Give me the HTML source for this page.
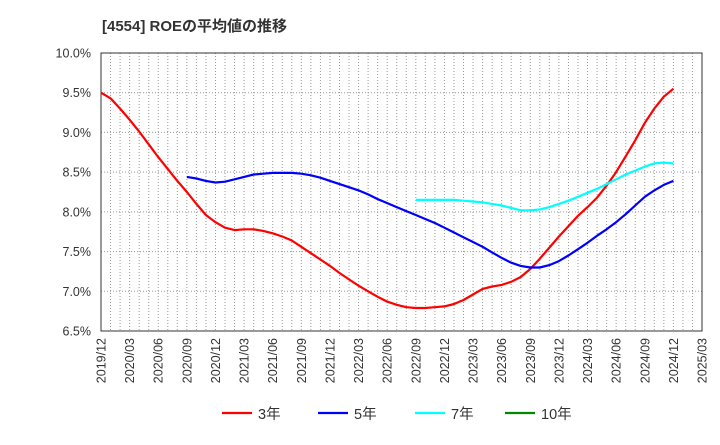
<!DOCTYPE html>
<html><head><meta charset="utf-8"><style>
body{margin:0;background:#fff;font-family:"Liberation Sans","Noto Sans CJK JP",sans-serif;}
svg text{font-family:"Liberation Sans","Noto Sans CJK JP",sans-serif;}
</style></head><body>
<svg id="chart" width="720" height="440">
<text x="102" y="31" font-size="15" font-weight="bold" fill="#333">[4554]  ROEの平均値の推移</text>
<g id="grid"></g><g id="axes"></g><g id="series"></g><g id="legend"></g>
</svg>
<script>
const months = 64;
const startYear = 2019, startMonth = 12;
const yTicks = [6.5,7.0,7.5,8.0,8.5,9.0,9.5,10.0];
const red3 = [9.50,9.43,9.30,9.16,9.01,8.85,8.69,8.54,8.39,8.25,8.10,7.96,7.87,7.80,7.77,7.78,7.78,7.76,7.73,7.69,7.64,7.56,7.48,7.40,
7.32,7.23,7.15,7.07,7.00,6.93,6.87,6.83,6.80,6.79,6.79,6.80,6.81,6.84,6.89,6.96,7.03,7.06,7.08,7.12,7.18,7.28,7.41,7.55,7.69,7.82,7.95,8.06,8.18,8.33,8.50,8.70,8.90,9.12,9.30,9.45,9.55];
const red3Start = 0;
const blue5 = [8.44,8.42,8.39,8.37,8.38,8.41,8.44,8.47,8.48,8.49,8.49,8.49,8.48,8.46,8.43,8.39,8.35,8.31,8.27,8.22,8.16,8.11,8.06,8.01,7.96,7.91,7.86,7.80,7.74,7.68,7.62,7.56,7.49,7.42,7.36,7.32,7.30,7.30,7.33,7.38,7.45,7.53,7.61,7.70,7.78,7.87,7.97,8.08,8.19,8.27,8.34,8.39];
const blue5Start = 9;
const cyan7 = [8.15,8.15,8.15,8.15,8.15,8.14,8.13,8.12,8.10,8.08,8.05,8.02,8.02,8.03,8.06,8.10,8.14,8.19,8.24,8.29,8.35,8.41,8.47,8.52,8.57,8.61,8.62,8.61];
const cyan7Start = 33;
const green10 = [];
const legendLabels = ["3年","5年","7年","10年"];

const L=101,R=702,T=53,B=331,vmin=6.5,vmax=10.0,NS="http://www.w3.org/2000/svg";
const xs=m=>L+(R-L)*m/(months-1);
const ys=v=>B-(B-T)*(v-vmin)/(vmax-vmin);
function mk(tag,attrs,parent){const e=document.createElementNS(NS,tag);for(const k in attrs)e.setAttribute(k,attrs[k]);parent.appendChild(e);return e;}
const grid=document.getElementById('grid'),axes=document.getElementById('axes'),series=document.getElementById('series'),legend=document.getElementById('legend');
for(let m=1;m<months-1;m++){const l=mk('line',{x1:xs(m),x2:xs(m),y1:T,y2:B,stroke:'#999','stroke-dasharray':'1,2','stroke-width':1},grid);

}
yTicks.forEach(v=>{if(v>vmin&&v<vmax){const l=mk('line',{x1:L,x2:R,y1:ys(v),y2:ys(v),stroke:'#999','stroke-dasharray':'1,2'},grid);

}
const t=mk('text',{x:L-10,y:ys(v)+4.5,'text-anchor':'end','font-size':12.5,fill:'#333'},axes);t.textContent=v.toFixed(1)+'%';

});
const frame=mk('rect',{x:L,y:T,width:R-L,height:B-T,fill:'none',stroke:'#333','stroke-width':1},axes);


for(let m=0;m<months;m+=3){const tot=startMonth-1+m;const yr=startYear+Math.floor(tot/12),mo=tot%12+1;
const x=xs(m)+4.5,y=B+7;const t=mk('text',{x:x,y:y,'text-anchor':'end','font-size':12.5,fill:'#333',transform:`rotate(-90 ${x} ${y})`},axes);
t.textContent=yr+'/'+String(mo).padStart(2,'0');

}
function draw(arr,start,color,name){if(!arr.length)return;const d=arr.map((v,i)=>(i?'L':'M')+xs(start+i).toFixed(1)+','+ys(v).toFixed(1)).join('');
const p=mk('path',{d:d,fill:'none',stroke:color,'stroke-width':2.2,'stroke-linejoin':'round'},series);

}
draw(red3,red3Start,'#f00','series-3y');
draw(blue5,blue5Start,'#00f','series-5y');
draw(cyan7,cyan7Start,'#0ff','series-7y');
draw(green10,0,'#080','series-10y');
const lcol=['#f00','#00f','#0ff','#080'],lx=[222,318,415,505];
legendLabels.forEach((lab,i)=>{const g=mk('g',{},legend);


mk('line',{x1:lx[i],x2:lx[i]+30,y1:413,y2:413,stroke:lcol[i],'stroke-width':2.2},g);
const t=mk('text',{x:lx[i]+36,y:419,'font-size':14.5,fill:'#333'},g);t.textContent=lab;});
</script>
</body></html>
